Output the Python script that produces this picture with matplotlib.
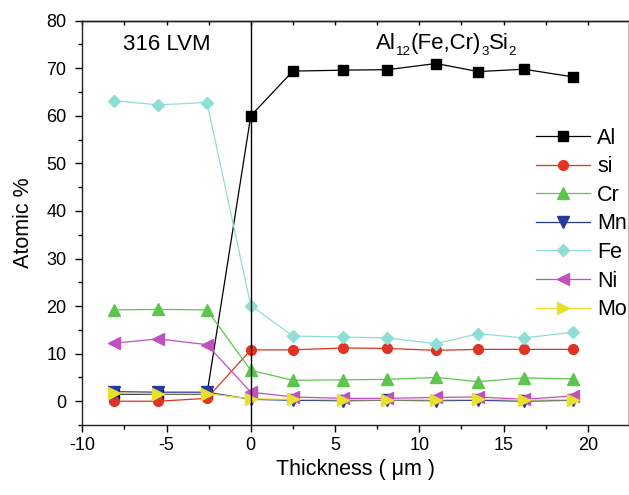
import numpy as np
import matplotlib
matplotlib.use("Agg")
import matplotlib.pyplot as plt
from matplotlib.ticker import MultipleLocator

plt.rcParams['font.family'] = ['Liberation Sans', 'DejaVu Sans']
plt.rcParams['axes.unicode_minus'] = False

# thickness positions (um)
thickness = [-8.1, -5.5, -2.6, 0, 2.5, 5.5, 8.1, 11.0, 13.5, 16.2, 19.1]

# atomic % per element
al = [1.5, 1.5, 1.5, 60.0, 69.4, 69.6, 69.7, 71.0, 69.3, 69.8, 68.2]
si = [0.0, 0.0, 0.6, 10.8, 10.8, 11.2, 11.1, 10.7, 10.9, 10.9, 10.9]
cr = [19.2, 19.3, 19.2, 6.5, 4.4, 4.5, 4.6, 5.0, 4.1, 4.9, 4.7]
mn = [2.0, 1.9, 1.9, 0.4, 0.2, 0.1, 0.2, 0.1, 0.2, 0.0, 0.2]
fe = [63.2, 62.3, 62.8, 20.1, 13.7, 13.5, 13.3, 12.1, 14.2, 13.3, 14.5]
ni = [12.2, 13.1, 11.9, 1.9, 0.9, 0.6, 0.6, 0.8, 0.9, 0.4, 1.1]
mo = [1.7, 1.6, 1.6, 0.5, 0.4, 0.3, 0.3, 0.3, 0.4, 0.3, 0.3]

series = [
    ("Al", al, "#000000", "s", 6.5),
    ("si", si, "#e03322", "o", 7),
    ("Cr", cr, "#5cc64c", "^", 8),
    ("Mn", mn, "#27399b", "v", 8),
    ("Fe", fe, "#8fded6", "D", 6.5),
    ("Ni", ni, "#c24fbf", "<", 8),
    ("Mo", mo, "#e8e02c", ">", 8),
]

# phase label pieces: (text, fontsize, baseline shift in points)
phase_pieces = [("Al", 16, 0), ("12", 9.5, -3.8), ("(Fe,Cr)", 16, 0),
                ("3", 9.5, -3.8), ("Si", 16, 0), ("2", 9.5, -3.8)]

fig = plt.figure(figsize=(6.29, 4.95), dpi=100)
ax = fig.add_axes([0.1308, 0.1414, 0.868, 0.8168])

for name, vals, col, mk, ms in series:
    ax.plot(thickness, vals, color=col, lw=0.9, marker=mk, ms=ms,
            mec=col, mfc=col, label=name)

ax.axvline(0, color="black", lw=1.0)

ax.set_xlim(-10, 22.4)
ax.set_ylim(-5, 80)
ax.xaxis.set_major_locator(MultipleLocator(5))
ax.xaxis.set_minor_locator(MultipleLocator(2.5))
ax.yaxis.set_major_locator(MultipleLocator(10))
ax.yaxis.set_minor_locator(MultipleLocator(5))

ax.tick_params(which="major", direction="out", length=5, width=1, labelsize=13,
               top=False, right=False)
ax.tick_params(which="minor", direction="out", length=3, width=1,
               top=False, right=False)
ax.tick_params(axis="y", which="major", pad=6.5)
# inward ticks on top border
sec = ax.secondary_xaxis("top")
sec.xaxis.set_major_locator(MultipleLocator(2.5))
sec.tick_params(direction="in", length=3, width=1, labeltop=False)
sec.spines["top"].set_linewidth(1.0)

for s in ["left", "bottom", "top"]:
    ax.spines[s].set_linewidth(1.0)
    ax.spines[s].set_color("#222222")
ax.spines["right"].set_color("#bbbbbb")

ax.set_xlabel("Thickness ( \u03bcm )", fontsize=15.5)
ax.set_ylabel("Atomic %", fontsize=15.5, labelpad=9)

ax.text(-5.0, 75, "316 LVM", fontsize=16, ha="center", va="center")

# Al12(Fe,Cr)3Si2 built piece by piece so the subscripts stay small
fig.canvas.draw()
rend = fig.canvas.get_renderer()
x_off = 0
for s, size, dy in phase_pieces:
    t = ax.annotate(s, xy=(7.43, 74.0), xycoords="data", xytext=(x_off, dy),
                    textcoords="offset points", fontsize=size,
                    ha="left", va="baseline")
    x_off += t.get_window_extent(rend).width * 72 / fig.dpi

ax.legend(loc="upper left", bbox_to_anchor=(0.831, 0.735), frameon=False,
          fontsize=15.5, handlelength=2.5, handletextpad=0.35, numpoints=1,
          borderpad=0, borderaxespad=0, labelspacing=0.35)

fig.savefig("out.png", dpi=100)
